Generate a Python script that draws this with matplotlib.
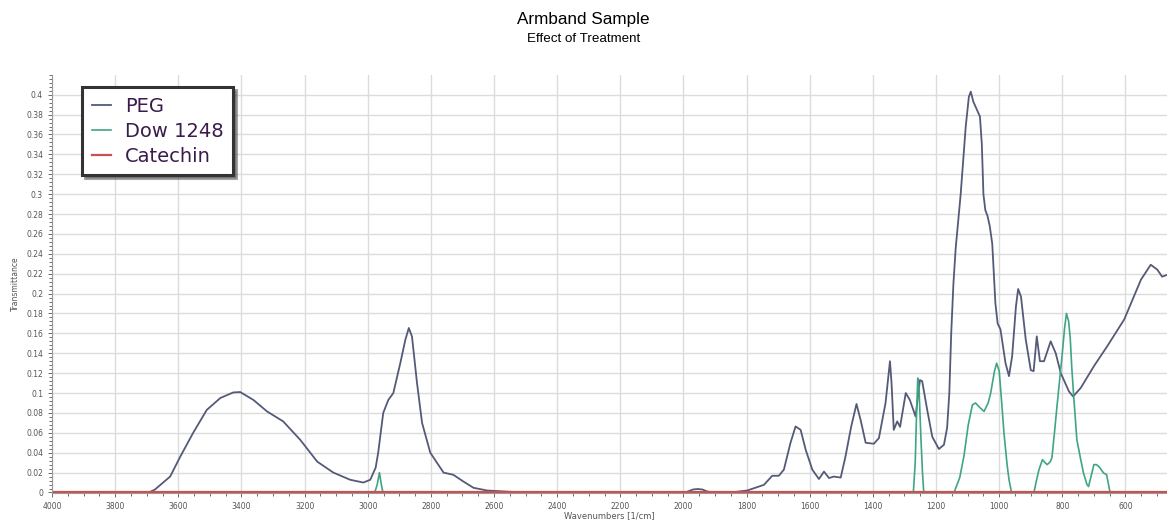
import matplotlib.pyplot as plt
from matplotlib.ticker import MultipleLocator

# FTIR spectra, wavenumber (1/cm) vs transmittance
peg_wn = [4000, 3700, 3690, 3674, 3626, 3594, 3553, 3510, 3467, 3426, 3404, 3362,
          3319, 3268, 3214, 3160, 3109, 3056, 3014, 2992, 2975, 2967, 2951, 2935,
          2919, 2897, 2881, 2870, 2860, 2844, 2828, 2802, 2760, 2729, 2697, 2665,
          2622, 2550, 2480, 2000, 1990, 1970, 1955, 1940, 1925, 1900, 1850, 1798,
          1745, 1719, 1698, 1682, 1661, 1645, 1629, 1613, 1592, 1571, 1555, 1539,
          1524, 1502, 1487, 1469, 1452, 1439, 1423, 1397, 1381, 1360, 1346, 1341,
          1334, 1323, 1314, 1296, 1283, 1265, 1251, 1244, 1228, 1212, 1191, 1175,
          1165, 1158, 1152, 1145, 1138, 1122, 1106, 1096, 1090, 1082, 1071, 1061,
          1055, 1050, 1044, 1037, 1030, 1022, 1012, 1005, 996, 980, 969, 959, 947,
          940, 931, 916, 900, 891, 881, 871, 858, 837, 821, 805, 779, 766, 742, 700,
          658, 604, 551, 520, 499, 484, 466]
peg_t = [0, 0, 0.0005, 0.003, 0.016, 0.036, 0.060, 0.083, 0.095, 0.1006, 0.101, 0.093,
         0.0815, 0.0715, 0.053, 0.031, 0.020, 0.0128, 0.010, 0.0128, 0.025, 0.040, 0.080, 0.093,
         0.100, 0.130, 0.1535, 0.1654, 0.157, 0.110, 0.070, 0.040, 0.020, 0.0178, 0.011, 0.0047,
         0.002, 0.0007, 0, 0, 0.0005, 0.003, 0.0035, 0.003, 0.001, 0, 0, 0.002,
         0.0077, 0.0168, 0.0168, 0.023, 0.050, 0.0664, 0.063, 0.043, 0.023, 0.0135, 0.021, 0.0145,
         0.016, 0.015, 0.036, 0.066, 0.089, 0.073, 0.050, 0.049, 0.0547, 0.090, 0.132, 0.110,
         0.063, 0.0715, 0.066, 0.100, 0.093, 0.0765, 0.113, 0.112, 0.083, 0.056, 0.0437, 0.048,
         0.065, 0.100, 0.160, 0.210, 0.245, 0.300, 0.368, 0.398, 0.403, 0.393, 0.385, 0.378,
         0.350, 0.300, 0.284, 0.278, 0.268, 0.250, 0.190, 0.170, 0.164, 0.130, 0.117, 0.137, 0.187,
         0.2046, 0.197, 0.154, 0.123, 0.122, 0.157, 0.132, 0.132, 0.152, 0.140, 0.120, 0.1016, 0.0966, 0.105, 0.127,
         0.147, 0.174, 0.214, 0.229, 0.224, 0.217, 0.219]

dow_wn = [4000, 2978, 2970, 2963, 2957, 2952, 1272, 1266, 1262, 1258, 1254, 1248,
          1243, 1239, 1143, 1125, 1112, 1098, 1085, 1075, 1060, 1048, 1035, 1027,
          1015, 1008, 1000, 992, 985, 975, 969, 961, 890, 882, 874, 863, 855, 848,
          838, 833, 825, 817, 808, 801, 793, 787, 780, 775, 770, 764, 754, 743, 733,
          722, 717, 710, 700, 692, 684, 675, 669, 660, 655, 649, 466]
dow_t = [0, 0, 0.008, 0.020, 0.008, 0, 0, 0.03, 0.076, 0.115, 0.105, 0.055,
         0.02, 0, 0, 0.015, 0.036, 0.068, 0.088, 0.090, 0.085, 0.0815, 0.09, 0.100,
         0.122, 0.130, 0.122, 0.09, 0.06, 0.028, 0.013, 0, 0, 0.012, 0.023, 0.033, 0.030, 0.028,
         0.031, 0.035, 0.06, 0.0865, 0.115, 0.137, 0.165, 0.180, 0.172, 0.155, 0.125, 0.0966, 0.053, 0.035, 0.0195,
         0.008, 0.006, 0.015, 0.028, 0.028, 0.026, 0.022, 0.0195, 0.018, 0.01, 0, 0]

cat_wn = [4000, 466]
cat_t = [0, 0]

fig = plt.figure(figsize=(11.67, 5.23), dpi=100)
ax = fig.add_axes([0.0446, 0.0574, 0.955, 0.7996])

ax.plot(peg_wn, peg_t, color='#545a78', lw=1.3, label='PEG')
ax.plot(dow_wn, dow_t, color='#3fa582', lw=1.2, label='Dow 1248')
ax.plot(cat_wn, cat_t, color='#cc4f4f', lw=1.6, label='Catechin')

ax.set_xlim(4000, 470)
ax.set_ylim(-0.0005, 0.42)

ax.xaxis.set_major_locator(MultipleLocator(200))
ax.xaxis.set_minor_locator(MultipleLocator(50))
ax.yaxis.set_minor_locator(MultipleLocator(0.004))
ax.set_yticks([i * 0.02 for i in range(21)])
ax.set_yticklabels(['0'] + ['%g' % round(i * 0.02, 2) for i in range(1, 21)])

ax.grid(True, which='major', color='#dcdcdc', lw=1)
ax.set_axisbelow(True)
ax.tick_params(which='both', labelsize=5.5, colors='#555555', length=3, width=0.6)
ax.tick_params(which='minor', length=2)
for s in ['top', 'right']:
    ax.spines[s].set_visible(False)
ax.spines['left'].set_color('#999999')
ax.spines['bottom'].set_color('#999999')

ax.set_xlabel('Wavenumbers [1/cm]', fontsize=6, color='#555555', labelpad=0)
ax.set_ylabel('Transmittance', fontsize=5.5, color='#555555', labelpad=4)

leg = ax.legend(loc='upper left', bbox_to_anchor=(0.027, 0.97), fontsize=14,
                handlelength=1.0, handletextpad=0.7, labelspacing=0.3,
                borderpad=0.5, borderaxespad=0, fancybox=False, shadow=True,
                framealpha=1)
leg.get_frame().set_edgecolor('#333333')
leg.get_frame().set_linewidth(2.2)
for t in leg.get_texts():
    t.set_color('#3a1c4c')

fig.text(0.5, 0.962, 'Armband Sample', ha='center', va='center',
         fontsize=12.3, family='Liberation Sans')
fig.text(0.5, 0.926, 'Effect of Treatment', ha='center', va='center',
         fontsize=9.6, family='Liberation Sans')

fig.savefig('out.png', dpi=100)
